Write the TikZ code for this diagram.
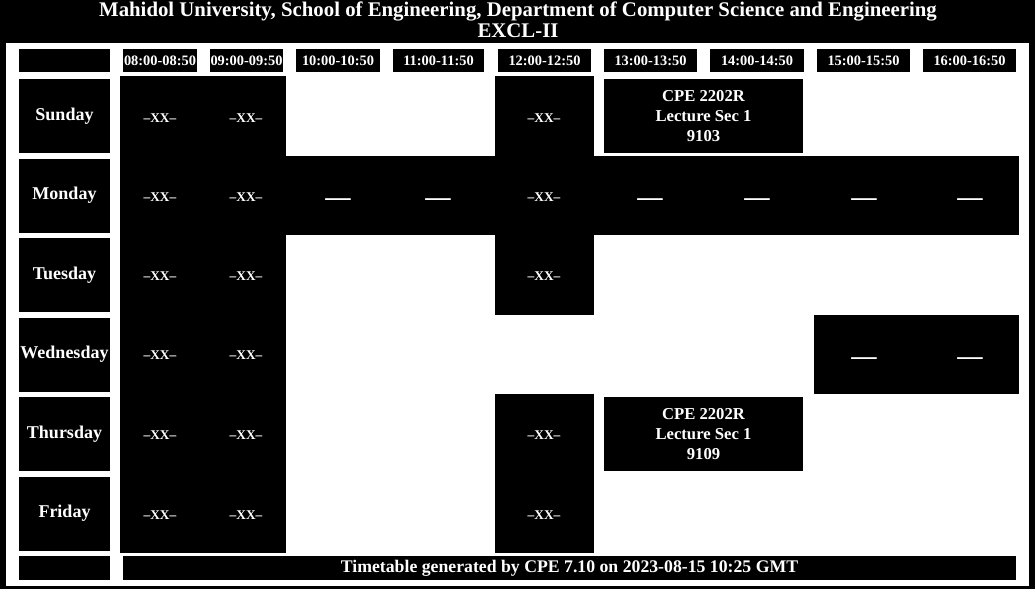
\documentclass[tikz,border=0pt]{standalone}
\usepackage{fontspec}
\setmainfont{Liberation Serif}
\begin{document}
\begin{tikzpicture}[x=0.75pt,y=-0.75pt,
  titletxt/.style={text=white,inner sep=0,font=\bfseries\fontsize{15.6pt}{17pt}\selectfont},
  hcell/.style={fill=black,text=white,inner sep=0,minimum height=23*0.75pt,font=\bfseries\fontsize{10.8pt}{12pt}\selectfont},
  dcell/.style={fill=black,text=white,inner sep=0,minimum width=91*0.75pt,minimum height=74*0.75pt,font=\bfseries\fontsize{13.5pt}{15pt}\selectfont},
  cbox/.style={fill=black,text=white,inner sep=0,minimum width=199*0.75pt,minimum height=74*0.75pt,align=center,font=\bfseries\fontsize{12.5pt}{15pt}\selectfont},
  xmark/.style={text=white,inner sep=0,font=\bfseries\fontsize{10pt}{11pt}\selectfont},
  dmark/.style={text=white,inner sep=0,font=\bfseries\fontsize{19pt}{20pt}\selectfont},
  bcell/.style={fill=black,text=white,inner sep=0,minimum height=24*0.75pt,font=\bfseries\fontsize{13.3pt}{14pt}\selectfont}]
\fill[black] (0,0) rectangle (1035,589);
\useasboundingbox (0,0) rectangle (1035,589);
% title
\node[titletxt] (t1) at (518,11.5) {Mahidol University, School of Engineering, Department of Computer Science and Engineering};
\node[titletxt] (t2) at (518,31) {EXCL-II};
% white frame
\fill[white] (6,43) rectangle (1029,586);
% header row
\node[hcell,minimum width=91*0.75pt] (h0) at (64.5,60.5) {};
\node[hcell,minimum width=74*0.75pt] (h1) at (160,60.5) {08:00-08:50};
\node[hcell,minimum width=73*0.75pt] (h2) at (246.5,60.5) {09:00-09:50};
\node[hcell,minimum width=84*0.75pt] (h3) at (338,60.5) {10:00-10:50};
\node[hcell,minimum width=91*0.75pt] (h4) at (438.5,60.5) {11:00-11:50};
\node[hcell,minimum width=93*0.75pt] (h5) at (544.5,60.5) {12:00-12:50};
\node[hcell,minimum width=93*0.75pt] (h6) at (650.5,60.5) {13:00-13:50};
\node[hcell,minimum width=94*0.75pt] (h7) at (757,60.5) {14:00-14:50};
\node[hcell,minimum width=93*0.75pt] (h8) at (863.5,60.5) {15:00-15:50};
\node[hcell,minimum width=93*0.75pt] (h9) at (969.5,60.5) {16:00-16:50};
% day cells
\node[dcell] (d1) at (64.5,116) {Sunday};
\node[dcell] (d2) at (64.5,195.5) {Monday};
\node[dcell] (d3) at (64.5,275) {Tuesday};
\node[dcell] (d4) at (64.5,354.5) {Wednesday};
\node[dcell] (d5) at (64.5,434) {Thursday};
\node[dcell] (d6) at (64.5,513.5) {Friday};
% shaded blocks
\fill[black] (120,76) rectangle (286,553);
\fill[black] (120,156) rectangle (1019,235);
\fill[black] (495,76) rectangle (594,315);
\fill[black] (495,394) rectangle (594,553);
\fill[black] (814,315) rectangle (1019,394);
% course boxes
\node[cbox] (c1) at (703.5,116) {CPE 2202R\\Lecture Sec 1\\9103};
\node[cbox] (c2) at (703.5,434) {CPE 2202R\\Lecture Sec 1\\9109};
% x marks
\foreach \r/\y in {1/118,2/197,3/276,4/355,5/435,6/515}{
  \node[xmark] (xa\r) at (160,\y) {–XX–};
  \node[xmark] (xb\r) at (246,\y) {–XX–};
}
\foreach \r/\y in {1/118,2/197,3/276,5/435,6/515}{
  \node[xmark] (xc\r) at (544,\y) {–XX–};
}
% dashes
\foreach \c/\x in {3/338,4/438,6/650,7/757,8/864,9/970}{
  \node[dmark] (m2\c) at (\x,202) {—};
}
\foreach \c/\x in {8/864,9/970}{
  \node[dmark] (m4\c) at (\x,361) {—};
}
% bottom row
\node[bcell,minimum width=91*0.75pt] (b0) at (64.5,568) {};
\node[bcell,minimum width=893*0.75pt] (b1) at (569.5,568) {Timetable generated by CPE 7.10 on 2023-08-15 10:25 GMT};
\end{tikzpicture}
\end{document}
